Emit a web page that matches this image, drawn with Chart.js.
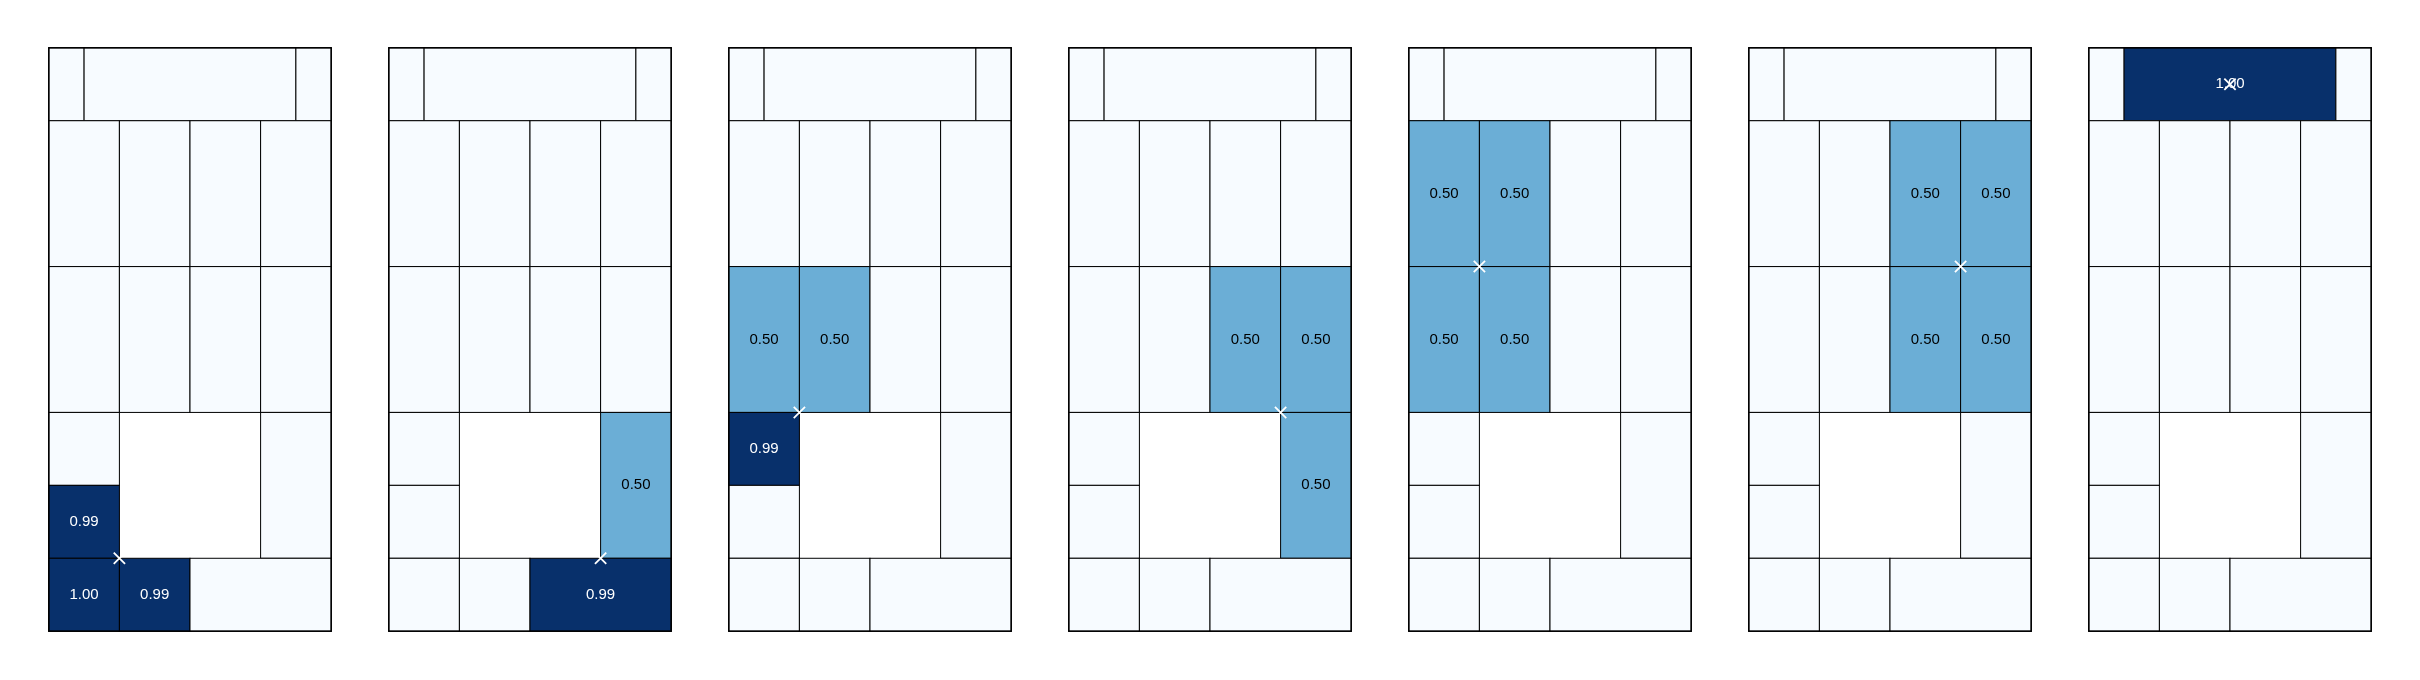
<!DOCTYPE html>
<html><head><meta charset="utf-8">
<script src="https://cdn.jsdelivr.net/npm/chart.js@4"></script>
<style>body{margin:0;background:#fff;width:2420px;height:680px;position:relative;overflow:hidden}
.p{position:absolute;top:38px;width:302px;height:603px}</style>
</head><body>
<script>
// cell layout in grid units: [x0,x1,y0,y1]
const cells = [
 [0,0.5,0,1],[0.5,3.5,0,1],[3.5,4,0,1],
 [0,1,1,3],[1,2,1,3],[2,3,1,3],[3,4,1,3],
 [0,1,3,5],[1,2,3,5],[2,3,3,5],[3,4,3,5],
 [0,1,5,6],[0,1,6,7],[3,4,5,7],
 [0,1,7,8],[1,2,7,8],[2,4,7,8]
];
const panel1 = [0,0,0, 0,0,0,0, 0,0,0,0, 0,0.99,0, 1.00,0.99,0];
const panel2 = [0,0,0, 0,0,0,0, 0,0,0,0, 0,0,0.50, 0,0,0.99];
const panel3 = [0,0,0, 0,0,0,0, 0.50,0.50,0,0, 0.99,0,0, 0,0,0];
const panel4 = [0,0,0, 0,0,0,0, 0,0,0.50,0.50, 0,0,0.50, 0,0,0];
const panel5 = [0,0,0, 0.50,0.50,0,0, 0.50,0.50,0,0, 0,0,0, 0,0,0];
const panel6 = [0,0,0, 0,0,0.50,0.50, 0,0,0.50,0.50, 0,0,0, 0,0,0];
const panel7 = [0,1.00,0, 0,0,0,0, 0,0,0,0, 0,0,0, 0,0,0];
const panels = [panel1,panel2,panel3,panel4,panel5,panel6,panel7];
const markers = [[1,7],[3,7],[1,5],[3,5],[1,3],[3,3],[2,0.5]];
const lefts = [40,380,720,1060,1400,1740,2080];

function color(v){
  if(v>=0.9) return '#08306b';
  if(v>=0.4) return '#6baed6';
  return '#f7fbff';
}
const cellPlugin = {
  id:'cells',
  beforeDatasetsDraw(chart){
    const {ctx, scales:{x,y}} = chart;
    const vals = chart.options.plugins.cells.values;
    ctx.save();
    cells.forEach((c,i)=>{
      const X0=x.getPixelForValue(c[0]), X1=x.getPixelForValue(c[1]);
      const Y0=y.getPixelForValue(c[2]), Y1=y.getPixelForValue(c[3]);
      ctx.fillStyle=color(vals[i]);
      ctx.fillRect(X0,Y0,X1-X0,Y1-Y0);
      ctx.strokeStyle='#000'; ctx.lineWidth=1;
      ctx.strokeRect(X0,Y0,X1-X0,Y1-Y0);
      if(vals[i]>0){
        ctx.fillStyle = vals[i]>=0.9?'#fff':'#000';
        ctx.font='15px "Liberation Sans", Arial, sans-serif';
        ctx.textAlign='center'; ctx.textBaseline='middle';
        ctx.fillText(vals[i].toFixed(2),(X0+X1)/2,(Y0+Y1)/2);
      }
    });
    const a=chart.chartArea;
    ctx.lineWidth=1.5;
    ctx.strokeRect(a.left,a.top,a.right-a.left,a.bottom-a.top);
    ctx.restore();
  }
};
panels.forEach((vals,k)=>{
  const d=document.createElement('div'); d.className='p'; d.style.left=(lefts[k]-1)+'px';
  const cv=document.createElement('canvas'); d.appendChild(cv); document.body.appendChild(d);
  new Chart(cv,{
    type:'scatter',
    data:{datasets:[{data:[{x:markers[k][0],y:markers[k][1]}],pointStyle:'crossRot',radius:8,
      borderColor:'#fff',borderWidth:1.8,backgroundColor:'#fff'}]},
    options:{responsive:true,maintainAspectRatio:false,animation:false,
      layout:{padding:1},
      plugins:{legend:{display:false},tooltip:{enabled:false},cells:{values:vals}},
      scales:{x:{type:'linear',min:0,max:4,display:false},
              y:{type:'linear',min:0,max:8,reverse:true,display:false}}},
    plugins:[cellPlugin]
  });
});
</script>
</body></html>
